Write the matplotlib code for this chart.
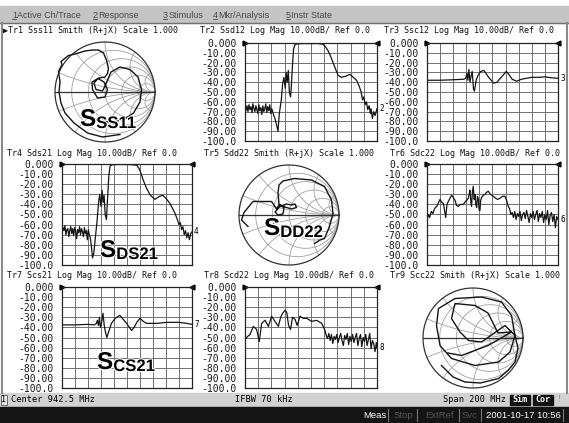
import numpy as np
import matplotlib.pyplot as plt
from matplotlib import patheffects
from matplotlib.patches import Rectangle

# Network analyzer screen: 3x3 trace layout (center 942.5 MHz, span 200 MHz)
W, H = 569, 423
START_MHZ = 842.5
SPAN_MHZ = 200.0

db_ticks = [0, -10, -20, -30, -40, -50, -60, -70, -80, -90, -100]
db_labels = ['0.000', '-10.00', '-20.00', '-30.00', '-40.00', '-50.00',
             '-60.00', '-70.00', '-80.00', '-90.00', '-100.0']

# Log mag traces: offset from start frequency (MHz), level (dB)
tr2_off = [0, 1.5, 3, 4.5, 6, 7.5, 9, 10.5, 12, 13.5, 15, 16.5, 18, 19.5, 21, 22.5, 24, 25.5, 27, 28.5,
           30, 31.5, 33, 34.5, 36, 37.5, 39, 40.5, 42, 43.5, 45, 48, 50, 52, 55,
           57, 59, 61, 62.4, 64, 65.6, 67.2, 69, 70.4, 72, 73.6, 76, 80, 90, 100, 110, 118, 122, 126, 130,
           134, 138, 141, 146, 152, 159, 164, 169, 173, 176, 178, 180, 182, 184, 186, 188, 190, 191, 193, 195,
           197, 200]
tr2_db = [-66, -69, -64, -70, -63, -68, -65, -71, -62, -67, -70, -64, -68, -72, -63, -69, -66, -73, -64, -70,
          -67, -62, -71, -65, -69, -63, -72, -67, -70, -74, -76, -84, -90, -72, -58,
          -42, -35, -46, -30, -40, -28, -50, -55, -42, -22, -6, -1.5, -0.8, -0.5, -0.6, -0.5, -1.2, -4, -8, -14,
          -21, -28, -33, -35, -34, -32, -35, -38, -44, -50, -58, -55, -63, -60, -68, -64, -72, -67, -77, -70,
          -74, -67]

tr3_off = [0, 20, 40, 56, 59, 61, 62.4, 64, 65.6, 67.2, 69, 71, 72.4, 75, 78, 82, 87, 94, 102, 107,
           112, 116, 121, 125, 130, 137, 144, 152, 160, 172, 180, 190, 200]
tr3_db = [-38, -38, -37.5, -37, -36, -31, -38, -27, -40, -34, -29, -47, -49, -38, -33, -29, -28, -35, -41, -40,
          -36, -33, -29, -32, -37, -39, -37, -36, -35, -35, -34.5, -35.5, -36]

tr4_off = [0, 1.5, 3, 4.5, 6, 7.5, 9, 10.5, 12, 13.5, 15, 16.5, 18, 19.5, 21, 22.5, 24, 25.5, 27, 28.5,
           30, 31.5, 33, 34.5, 36, 37.5, 39, 40.5, 42, 43.5, 45, 47, 49, 51, 54,
           56, 58, 60, 61.6, 63.2, 64.8, 66.4, 68.4, 70, 72, 74, 77, 86, 96, 106, 115, 119, 122, 125, 130,
           136, 143, 150, 155, 160, 166, 170, 174, 178, 180, 182, 184, 186, 188, 190, 192, 194, 196, 198, 200]
tr4_db = [-67, -63, -66, -61, -70, -65, -64, -72, -66, -62, -69, -64, -71, -63, -66, -74, -65, -68, -62, -70,
          -64, -67, -72, -63, -69, -66, -75, -65, -70, -73, -80, -93, -88, -75, -56,
          -40, -30, -42, -26, -38, -31, -50, -55, -35, -12, -2, -0.8, -0.5, -0.5, -0.6, -1.2, -5, -10, -16, -24,
          -31, -35, -32, -31, -34, -39, -44, -49, -56, -60, -58, -65, -62, -70, -66, -73, -68, -75, -69, -67]

tr6_off = [0, 2, 4, 6.6, 9, 11, 13, 14.8, 17, 20, 22.5, 25, 27, 28.6, 30.5, 32.6, 35, 37.6, 40, 42.8,
           45, 47.8, 51, 55.4, 59, 63, 64.3, 65.6, 67, 68, 69.3, 70.6, 72, 73.2, 74.5, 75.8, 77, 78.4, 79.5, 80.8,
           82, 83.4, 86, 88.6, 91, 93.6, 97, 101.2, 105, 108, 111.4, 115, 119, 121.5, 124,
           126, 128, 130, 132, 134, 136, 138, 140, 142, 144, 146, 148, 150, 152, 154, 156, 158, 160, 162, 164,
           166, 168, 170, 172, 174, 176, 178, 180, 182, 184, 186, 188, 190, 192, 194, 196, 198, 200]
tr6_db = [-55, -50, -53, -47, -49, -45, -43, -42, -39, -35, -38, -39, -47, -53, -40, -37, -34, -31, -33, -36,
          -41, -42, -40, -40, -37, -34, -30, -26, -38, -42, -28, -22, -35, -30, -40, -43, -32, -35, -45, -46,
          -36, -33, -31, -30, -28, -27, -30, -32, -34, -35, -34, -32, -32, -36, -42,
          -44, -50, -48, -53, -47, -55, -49, -52, -47, -56, -50, -48, -54, -46, -52, -58, -49, -53, -47, -55,
          -50, -46, -57, -49, -53, -47, -58, -50, -55, -46, -60, -51, -48, -57, -50, -63, -52, -55]

tr7_off = [0, 20, 40, 50, 53, 54.4, 56, 57.6, 59, 61, 63, 65, 67, 69, 72, 76, 82, 89, 99.4, 107,
           111, 115, 120, 125, 130, 146, 161, 180, 192, 200]
tr7_db = [-37.5, -37.5, -37, -37.5, -36, -33, -38, -30, -40, -35, -26, -38, -45, -50, -44, -36, -31, -28, -36, -43,
          -40, -35, -31, -34, -36, -36, -35, -35, -36, -37]

tr8_off = [0, 4, 7.6, 12.6, 17.6, 21.6, 25.2, 30.4, 35.4, 40.4, 45.4, 50.6, 54, 57, 60.6, 63.2, 66, 69, 72, 75.8,
           79, 83.4, 88.4, 93.4, 101, 108.6, 116.2,
           121.2, 123, 125, 127, 129, 131, 133, 135, 137, 139, 141, 143, 145, 147, 149, 151, 153, 155, 157, 159,
           161, 163, 165, 167, 169, 171, 173, 175, 177, 179, 181, 183, 185, 187, 189, 191, 193, 195, 197, 199, 200]
tr8_db = [-52, -49, -47, -39, -42, -54, -36, -33, -39, -29, -34, -39, -30, -26, -23, -25, -38, -42, -30, -32,
          -38, -29, -31, -31, -34, -33, -36,
          -43, -48, -51, -46, -53, -47, -56, -49, -52, -47, -55, -50, -46, -53, -58, -48, -52, -46, -57, -49,
          -54, -47, -55, -50, -46, -58, -51, -47, -59, -50, -54, -47, -58, -52, -46, -61, -53, -56, -64, -55, -60]

# Smith traces: reflection coefficient real / imag
tr1_re = [0.30, -0.05, -0.35, -0.62, -0.80, -0.88, -0.92, -0.90, -0.93, -0.86, -0.88, -0.73, -0.60,
          -0.40, -0.25, -0.13, -0.03, 0.03, 0.07, 0.05, 0.00, -0.12, -0.26,
          -0.25, -0.15, 0.00, 0.05, -0.02, -0.14, -0.22, -0.18, -0.05, 0.00,
          0.12, 0.30, 0.50, 0.66, 0.73, 0.70, 0.57, 0.38, 0.15, -0.10, -0.30]
tr1_im = [-0.85, -0.90, -0.82, -0.62, -0.42, -0.22, 0.00, 0.20, 0.41, 0.55, 0.61, 0.73, 0.76,
          0.82, 0.84, 0.84, 0.78, 0.64, 0.47, 0.37, 0.30, 0.28, 0.20,
          0.05, -0.12, -0.10, 0.05, 0.20, 0.27, 0.18, 0.05, 0.02, 0.12,
          0.40, 0.50, 0.45, 0.30, 0.05, -0.20, -0.42, -0.55, -0.60, -0.58, -0.50]

tr5_re = [-0.82, -0.95, -0.90, -0.72, -0.35, -0.30, -0.25, -0.20, -0.10, -0.12,
          -0.22, -0.28, -0.18, -0.05, 0.05, 0.12, 0.15, 0.05, -0.08, -0.20,
          -0.22, -0.20, -0.12, 0.11, 0.45, 0.71, 0.85, 0.88, 0.81, 0.71, 0.62, 0.51]
tr5_im = [-0.23, -0.10, 0.05, 0.27, 0.27, 0.20, 0.12, 0.20, 0.15, 0.02,
          0.00, 0.06, 0.17, 0.22, 0.20, 0.22, 0.15, 0.12, 0.16, 0.22,
          0.45, 0.60, 0.68, 0.73, 0.70, 0.57, 0.30, 0.03, -0.23, -0.47, -0.50, -0.57]

tr9_re = [-0.63, -0.40, -0.16, 0.15, 0.51, 0.70, 0.84, 0.90, 0.84, 0.77,
          0.57, 0.17, -0.36, -0.69, -0.73, -0.66, -0.43, 0.04, 0.51, 0.74,
          0.84, 0.64, 0.17, -0.09, -0.26, -0.43, -0.36, 0.04, 0.30, 0.50,
          0.77, 0.30, -0.23, -0.50]
tr9_im = [-0.55, -0.78, -0.88, -0.90, -0.81, -0.65, -0.48, -0.20, 0.05, 0.45,
          0.72, 0.82, 0.79, 0.59, 0.25, -0.15, -0.41, -0.55, -0.48, -0.28,
          0.05, 0.25, -0.08, -0.05, 0.12, 0.39, 0.69, 0.65, 0.50, 0.10,
          0.12, -0.15, -0.35, -0.30]

MONO = ['DejaVu Sans Mono', 'DejaVu Sans']
NARROW = ['Liberation Sans Narrow', 'Liberation Sans', 'DejaVu Sans']
TRACE = '#151515'
GRID = '#707070'

fig = plt.figure(figsize=(W / 100, H / 100), dpi=100)


def px_axes(x0, y0, x1, y1, **kw):
    return fig.add_axes([x0 / W, 1 - y1 / H, (x1 - x0) / W, (y1 - y0) / H], **kw)


# background, menu bar, status bars
bg = px_axes(0, 0, W, H, zorder=-5)
bg.set_xlim(0, W)
bg.set_ylim(H, 0)
bg.axis('off')
bg.add_patch(Rectangle((0, 0), W, H, color='white'))
bg.add_patch(Rectangle((0, 6), W, 17, color='#c4c4c4'))
bg.plot([0, W], [23, 23], color='#707070', lw=1)
for x, d, label in [(12, '1', 'Active Ch/Trace'), (93, '2', 'Response'), (163, '3', 'Stimulus'),
                    (213, '4', 'Mkr/Analysis'), (286, '5', 'Instr State')]:
    bg.text(x, 15, d, fontsize=6.5, family='Liberation Sans', color='#4a4a4a', va='center')
    bg.plot([x, x + 4], [19.5, 19.5], color='#4a4a4a', lw=0.6)
    bg.text(x + 5.5, 15, label, fontsize=6.5, family='Liberation Sans', color='#4a4a4a', va='center')
bg.plot([2, 2], [23, 393], color='#8a8a8a', lw=1.5)
bg.plot([567, 567], [23, 393], color='#8a8a8a', lw=1.5)
bg.add_patch(Rectangle((0, 393), W, 14, color='#d2d2d2'))
bg.add_patch(Rectangle((0, 407), W, 16, color='#141414'))
bg.add_patch(Rectangle((1, 395), 6, 10, facecolor='#e8e8e8', edgecolor='#555555', lw=0.6))
bg.text(4, 400, '1', fontsize=6, family=MONO, va='center', ha='center')
bg.text(11, 400, 'Center 942.5 MHz', fontsize=6.2, family=MONO, va='center')
bg.text(235, 400, 'IFBW 70 kHz', fontsize=6.2, family=MONO, va='center')
bg.text(443, 400, 'Span 200 MHz', fontsize=6.2, family=MONO, va='center')
for x0, lab in [(510, 'Sim'), (533, 'Cor')]:
    bg.add_patch(Rectangle((x0, 395), 20, 10, color='#111111'))
    bg.text(x0 + 10, 400, lab, fontsize=6, family=MONO, color='white', va='center', ha='center',
            fontweight='bold')
bg.text(559, 400, '!', fontsize=6, color='#888888', va='center', ha='center')
bg.text(375, 415, 'Meas', fontsize=6.8, family='Liberation Sans', color='white', va='center', ha='center')
bg.text(403, 415, 'Stop', fontsize=6.8, family='Liberation Sans', color='#555555', va='center', ha='center')
bg.text(440, 415, 'ExtRef', fontsize=6.8, family='Liberation Sans', color='#555555', va='center', ha='center')
bg.text(470, 415, 'Svc', fontsize=6.8, family='Liberation Sans', color='#555555', va='center', ha='center')
bg.text(523, 415, '2001-10-17 10:56', fontsize=6.8, family='Liberation Sans', color='white',
        va='center', ha='center')
for x in [388, 417, 459, 481, 563]:
    bg.plot([x, x], [409, 421], color='#777777', lw=0.8)

# trace titles
titles = [
    (3, 30.5, '\u25b6Tr1 Sss11 Smith (R+jX) Scale 1.000'),
    (200, 30.5, 'Tr2 Ssd12 Log Mag 10.00dB/ Ref 0.0'),
    (384, 30.5, 'Tr3 Ssc12 Log Mag 10.00dB/ Ref 0.0'),
    (7, 153, 'Tr4 Sds21 Log Mag 10.00dB/ Ref 0.0'),
    (204, 153, 'Tr5 Sdd22 Smith (R+jX) Scale 1.000'),
    (390, 153, 'Tr6 Sdc22 Log Mag 10.00dB/ Ref 0.0'),
    (7, 276, 'Tr7 Scs21 Log Mag 10.00dB/ Ref 0.0'),
    (204, 276, 'Tr8 Scd22 Log Mag 10.00dB/ Ref 0.0'),
    (390, 276, 'Tr9 Scc22 Smith (R+jX) Scale 1.000'),
]
for x, y, s in titles:
    bg.text(x, y, s, fontsize=6.0, family=MONO, va='center', color='#111111')


def logmag(box, off, db, num):
    ax = px_axes(*box)
    f = START_MHZ + np.asarray(off)
    ax.plot(f, db, color=TRACE, lw=0.9)
    ax.set_xlim(START_MHZ, START_MHZ + SPAN_MHZ)
    ax.set_ylim(-100, 0)
    ax.set_xticks(START_MHZ + np.arange(0, 201, 20))
    ax.set_xticklabels([])
    ax.set_yticks(db_ticks)
    ax.set_yticklabels(db_labels, family=MONO, fontsize=7, color='#1a1a1a')
    ax.tick_params(length=0, pad=6)
    ax.grid(True, color=GRID, lw=0.7)
    for s in ax.spines.values():
        s.set_color('#222222')
        s.set_linewidth(0.9)
    ax.plot([START_MHZ], [0], marker='>', ms=3.5, color='k', clip_on=False)
    ax.plot([START_MHZ + SPAN_MHZ], [0], marker='<', ms=3.5, color='k', clip_on=False)
    ax.annotate(num, xy=(1, db[-1]), xycoords=('axes fraction', 'data'), xytext=(1.5, 0),
                textcoords='offset points', fontsize=5.5, family=MONO, va='center')
    return ax


def smith(cx, cy, re, im):
    R, pad = 50, 1.06
    ax = px_axes(cx - R * pad, cy - R * pad, cx + R * pad, cy + R * pad)
    ax.set_xlim(-pad, pad)
    ax.set_ylim(-pad, pad)
    ax.axis('off')
    t = np.linspace(-np.pi / 2 + 1e-3, np.pi / 2 - 1e-3, 400)
    for r in [0.2, 0.5, 1, 2, 5]:
        z = r + 1j * np.tan(t)
        g = (z - 1) / (z + 1)
        ax.plot(g.real, g.imag, color='#a0a0a0', lw=0.6)
    rr = np.concatenate([[0], np.logspace(-3, 3, 400)])
    for x in [0.2, 0.5, 1, 2, 5, -0.2, -0.5, -1, -2, -5]:
        z = rr + 1j * x
        g = (z - 1) / (z + 1)
        ax.plot(g.real, g.imag, color='#a0a0a0', lw=0.6)
    th = np.linspace(0, 2 * np.pi, 400)
    ax.plot(np.cos(th), np.sin(th), color='#333333', lw=0.9)
    ax.plot([-1, 1], [0, 0], color='#333333', lw=0.9)
    ax.plot(re, im, color=TRACE, lw=1.0)
    return ax


smith(105, 92, tr1_re, tr1_im)
logmag((245, 43, 377, 141), tr2_off, tr2_db, '2')
logmag((427, 43, 558, 141), tr3_off, tr3_db, '3')
logmag((62, 164, 192, 265), tr4_off, tr4_db, '4')
smith(289, 215, tr5_re, tr5_im)
logmag((427, 164, 558, 265), tr6_off, tr6_db, '6')
logmag((62, 287, 192, 388), tr7_off, tr7_db, '7')
logmag((245, 287, 377, 388), tr8_off, tr8_db, '8')
smith(473, 338, tr9_re, tr9_im)

# big parameter labels on top
ov = px_axes(0, 0, W, H, zorder=10)
ov.set_xlim(0, W)
ov.set_ylim(H, 0)
ov.axis('off')
ov.patch.set_alpha(0)
halo = [patheffects.withStroke(linewidth=1.5, foreground='white')]
for x, y, rest in [(80, 126, 'SS11'), (100, 257, 'DS21'), (264, 235, 'DD22'), (97, 369, 'CS21')]:
    t1 = ov.text(x, y, 'S', fontsize=17.5, fontweight='bold', family=NARROW, va='baseline',
                 ha='left', path_effects=halo)
    ov.annotate(rest, xy=(1, 0), xycoords=t1, fontsize=12, fontweight='bold', family=NARROW,
                va='bottom', ha='left', path_effects=halo)

fig.savefig('out.png', dpi=100)
